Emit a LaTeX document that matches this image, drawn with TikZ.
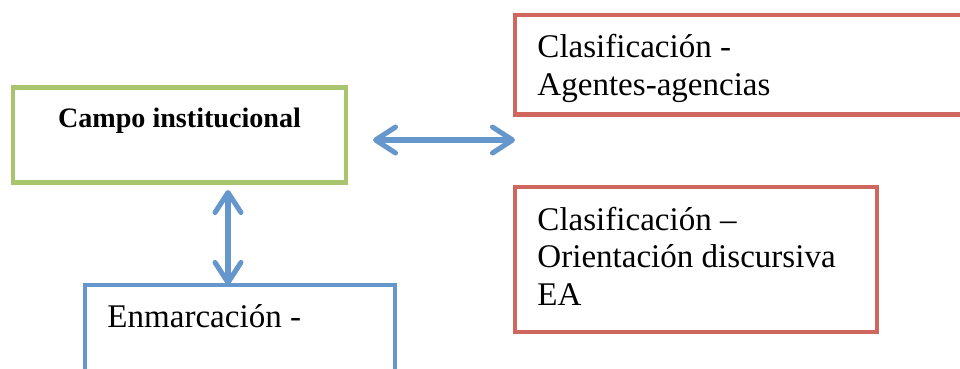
\documentclass[tikz,border=0pt]{standalone}
\usepackage{fontspec}
\setmainfont{Liberation Serif}
\usetikzlibrary{positioning,arrows.meta,calc}
\definecolor{boxGreen}{RGB}{168,196,108}
\definecolor{boxRed}{RGB}{207,103,94}
\definecolor{boxBlue}{RGB}{101,151,204}

\begin{document}
\begin{tikzpicture}[
  box/.style={rectangle, line width=3.2pt, inner sep=0pt, outer sep=0pt, anchor=north west},
  txt/.style={inner sep=0pt, align=left, font=\fontsize{23.5}{26.6}\selectfont},
  btxt/.style={inner sep=0pt, font=\fontsize{20}{24}\selectfont\bfseries},
  link/.style={draw=boxBlue, line width=3.6pt,
    {Straight Barb[length=5mm,width=6.5mm,round]}-{Straight Barb[length=5mm,width=6.5mm,round]},
    preaction={draw=black, opacity=0.12, transform canvas={shift={(0.6pt,-1.6pt)}}}}
]
  \clip (0,0) rectangle (24,9.2);
  % boxes
  \node[box, draw=boxGreen, minimum width=8.325cm, minimum height=2.375cm] (campo) at (0.325,7.0125) {};
  \node[box, draw=boxRed, minimum width=12.125cm, minimum height=2.4875cm] (agentes) at (12.875,8.825) {};
  \node[box, draw=boxRed, minimum width=9.05cm, minimum height=3.625cm] (orient) at (12.875,4.525) {};
  \node[box, draw=boxBlue, minimum width=7.75cm, minimum height=3cm] (marco) at (2.125,2.075) {};

  % texts (base = last line)
  \node[btxt, anchor=base] (campoTxt) at (4.4875,6.025) {Campo institucional};
  \node[txt, anchor=base west] (agentesTxt) at (13.43,6.825) {Clasificación -\\Agentes-agencias};
  \node[txt, anchor=base west] (orientTxt) at (13.43,1.575) {Clasificación –\\Orientación discursiva\\EA};
  \node[txt, anchor=base west] (marcoTxt) at (2.68,1.025) {Enmarcación -};

  % connectors
  \coordinate (hA) at (9.325,5.7);
  \coordinate (hB) at (12.875,5.7);
  \coordinate (vA) at (5.7,4.45);
  \draw[link] (hA) -- (hB);
  \draw[link] (vA) -- (vA |- marco.north);
\end{tikzpicture}
\end{document}
